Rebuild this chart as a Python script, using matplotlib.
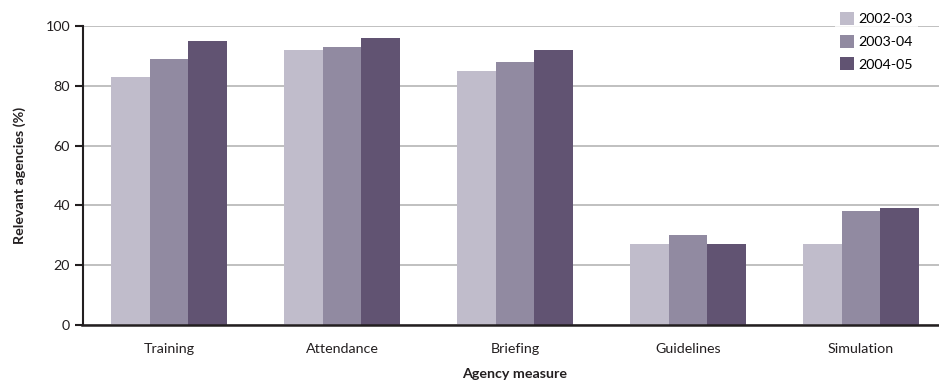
import matplotlib
matplotlib.use("Agg")
import matplotlib.pyplot as plt
import numpy as np

categories = ["Training", "Attendance", "Briefing", "Guidelines", "Simulation"]
series_names = ["2002-03", "2003-04", "2004-05"]
v2002 = [83, 92, 85, 27, 27]
v2003 = [89, 93, 88, 30, 38]
v2004 = [95, 96, 92, 27, 39]
colors = ["#C0BCCB", "#918AA1", "#615372"]

plt.rcParams['font.family'] = ['Lato', 'DejaVu Sans']

fig = plt.figure(figsize=(9.39, 3.83), dpi=100)
W, H = 939, 383
left, right, top, bottom = 82.5, 947.5, 26, 325
ax = fig.add_axes([left / W, (H - bottom) / H, (right - left) / W, (bottom - top) / H])

x = np.arange(len(categories))
bw = 0.225
for i, (vals, name) in enumerate(zip([v2002, v2003, v2004], series_names)):
    ax.bar(x + (i - 1) * bw, vals, width=bw, color=colors[i], label=name, zorder=2)

fs = 10.3
ax.set_xlim(-0.5, len(categories) - 0.5)
ax.set_ylim(0, 100)
ax.set_yticks([0, 20, 40, 60, 80, 100])
ax.set_xticks(x)
ax.set_xticklabels(categories)
ax.yaxis.grid(True, color="#B5B5B5", linewidth=1.2, zorder=0)
ax.set_axisbelow(True)
for s in ["top", "right"]:
    ax.spines[s].set_visible(False)
ax.spines["left"].set_color("#231F20")
ax.spines["left"].set_linewidth(1.5)
ax.spines["bottom"].set_color("#231F20")
ax.spines["bottom"].set_linewidth(1.8)
ax.tick_params(axis="y", direction="out", length=6, width=1.5, color="#231F20",
               labelsize=fs, labelcolor="#231F20", pad=3)
ax.tick_params(axis="x", length=0, labelsize=fs, labelcolor="#231F20", pad=13)
ax.set_ylabel("Relevant agencies (%)", fontsize=fs, fontweight="bold", color="#231F20", labelpad=14)
ax.set_xlabel("Agency measure", fontsize=fs, fontweight="bold", color="#231F20", labelpad=9)

leg = fig.legend(loc="upper left", bbox_to_anchor=(828 / W, 1.0), frameon=True,
                 fontsize=fs, handlelength=1.0, handleheight=1.0, handletextpad=0.25,
                 labelspacing=0.65, borderpad=0.35, fancybox=False)
leg.get_frame().set_facecolor("white")
leg.get_frame().set_edgecolor("white")
leg.get_frame().set_linewidth(0)

fig.savefig("out.png", dpi=100)
